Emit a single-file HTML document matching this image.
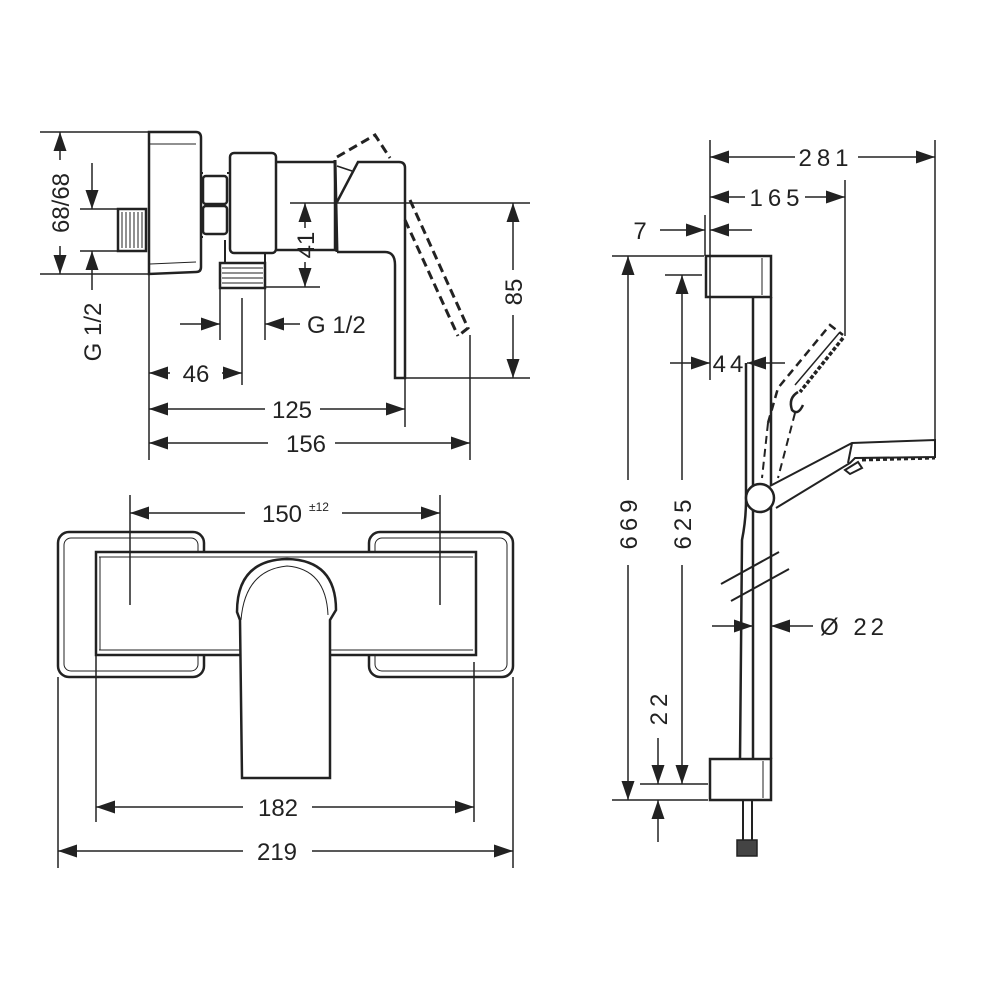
<!DOCTYPE html>
<html><head><meta charset="utf-8"><style>
html,body{margin:0;padding:0;background:#fff}
svg{display:block}
text{font-family:"Liberation Sans",sans-serif;fill:#222;font-size:24px}
</style></head><body>
<svg width="1000" height="1000" viewBox="0 0 1000 1000" xmlns="http://www.w3.org/2000/svg">
<defs>
<marker id="a" markerUnits="userSpaceOnUse" markerWidth="20" markerHeight="14" refX="19" refY="6.5" orient="auto-start-reverse">
<path d="M0,0 L19,6.5 L0,13 z" fill="#222"/>
</marker>
</defs>
<g stroke="#222" fill="none" stroke-width="1.5">
<line x1="40" y1="132" x2="150" y2="132"/>
<line x1="40" y1="274" x2="150" y2="274"/>
<line x1="60" y1="132" x2="60" y2="160" marker-start="url(#a)"/>
<line x1="60" y1="246" x2="60" y2="274" marker-end="url(#a)"/>
<line x1="80" y1="209" x2="118" y2="209"/>
<line x1="80" y1="251" x2="118" y2="251"/>
<line x1="92" y1="163" x2="92" y2="209" marker-end="url(#a)"/>
<line x1="92" y1="290" x2="92" y2="251" marker-end="url(#a)"/>
<rect x="118" y="209" width="28" height="42" stroke-width="2.5"/>
<g stroke-width="1"><line x1="122" y1="212" x2="122" y2="248"/><line x1="126" y1="212" x2="126" y2="248"/><line x1="130" y1="212" x2="130" y2="248"/><line x1="134" y1="212" x2="134" y2="248"/><line x1="138" y1="212" x2="138" y2="248"/><line x1="142" y1="212" x2="142" y2="248"/></g>
<path d="M149,132 L196,132 Q201,132 201,138 L201,267 Q201,272 196,272 L149,274 Z" stroke-width="2.5"/>
<line x1="150" y1="144" x2="196" y2="144" stroke-width="1"/>
<line x1="150" y1="264" x2="196" y2="262" stroke-width="1"/>
<path d="M201,173 L203,173 M201,237 L203,237" stroke-width="2"/>
<rect x="203" y="176" width="24" height="28" rx="3" stroke-width="2.5"/>
<rect x="203" y="206" width="24" height="28" rx="3" stroke-width="2.5"/>
<line x1="227" y1="173" x2="230" y2="173" stroke-width="2"/>
<rect x="230" y="153" width="46" height="100" rx="4" stroke-width="2.5"/>
<path d="M225,240 L225,263 M265,253 L265,263" stroke-width="2"/>
<rect x="220" y="263" width="45" height="25" stroke-width="2.5"/>
<g stroke-width="1"><line x1="222" y1="268" x2="263" y2="268"/><line x1="222" y1="273" x2="263" y2="273"/><line x1="222" y1="278" x2="263" y2="278"/><line x1="222" y1="283" x2="263" y2="283"/></g>
<path d="M276,162 L335,162 L335,250 L276,250" stroke-width="2.5"/>
<line x1="335" y1="160" x2="337" y2="252" stroke-width="3"/>
<path d="M337,252 L385,252 Q395,252 395,265 L395,378 L405,378 L405,168 Q405,162 399,162 L358,162 L337,202" stroke-width="2.5"/>
<line x1="337" y1="166" x2="352" y2="171" stroke-width="1.5"/>
<path d="M337,157 L375,135 L390,158" stroke-width="3" stroke-dasharray="9,5"/>
<path d="M410,200 L468,328 L458,336" stroke-width="3" stroke-dasharray="9,5"/>
<path d="M405,220 L458,336" stroke-width="3" stroke-dasharray="9,5"/>
<line x1="290" y1="203" x2="530" y2="203"/>
<line x1="400" y1="378" x2="530" y2="378"/>
<line x1="513" y1="203" x2="513" y2="270" marker-start="url(#a)"/>
<line x1="513" y1="315" x2="513" y2="378" marker-end="url(#a)"/>
<line x1="265" y1="287" x2="320" y2="287"/>
<line x1="305" y1="203" x2="305" y2="228" marker-start="url(#a)"/>
<line x1="305" y1="262" x2="305" y2="287" marker-end="url(#a)"/>
<line x1="220" y1="288" x2="220" y2="340"/>
<line x1="265" y1="288" x2="265" y2="340"/>
<line x1="180" y1="324" x2="220" y2="324" marker-end="url(#a)"/>
<line x1="300" y1="324" x2="265" y2="324" marker-end="url(#a)"/>
<line x1="149" y1="274" x2="149" y2="460"/>
<line x1="242" y1="298" x2="242" y2="385"/>
<line x1="405" y1="378" x2="405" y2="427"/>
<line x1="470" y1="335" x2="470" y2="460"/>
<line x1="149" y1="373" x2="170" y2="373" marker-start="url(#a)"/>
<line x1="222" y1="373" x2="242" y2="373" marker-end="url(#a)"/>
<line x1="149" y1="409" x2="265" y2="409" marker-start="url(#a)"/>
<line x1="320" y1="409" x2="405" y2="409" marker-end="url(#a)"/>
<line x1="149" y1="443" x2="268" y2="443" marker-start="url(#a)"/>
<line x1="335" y1="443" x2="470" y2="443" marker-end="url(#a)"/>

<rect x="58" y="532" width="146" height="145" rx="11" stroke-width="2.5" fill="#fff"/>
<rect x="64" y="538" width="134" height="133" rx="7" stroke-width="1"/>
<rect x="369" y="532" width="144" height="145" rx="11" stroke-width="2.5" fill="#fff"/>
<rect x="375" y="538" width="132" height="133" rx="7" stroke-width="1"/>
<rect x="96" y="552" width="380" height="103" stroke-width="2.5" fill="#fff"/>
<line x1="99" y1="557" x2="473" y2="557" stroke-width="1"/>
<line x1="99" y1="650" x2="473" y2="650" stroke-width="1"/>
<line x1="100" y1="557" x2="100" y2="650" stroke-width="1"/>
<path d="M242,778 L240,620 L237,612 Q237,560 287,559 Q336,560 336,610 L330,620 L330,778 Z" stroke-width="2.5" fill="#fff"/>
<path d="M241,620 Q245,570 287,566 Q326,569 328,615" stroke-width="1"/>
<line x1="130" y1="495" x2="130" y2="605"/>
<line x1="440" y1="495" x2="440" y2="605"/>
<line x1="130" y1="513" x2="245" y2="513" marker-start="url(#a)"/>
<line x1="342" y1="513" x2="440" y2="513" marker-end="url(#a)"/>
<line x1="96" y1="655" x2="96" y2="822"/>
<line x1="474" y1="662" x2="474" y2="822"/>
<line x1="58" y1="677" x2="58" y2="868"/>
<line x1="513" y1="677" x2="513" y2="868"/>
<line x1="96" y1="807" x2="243" y2="807" marker-start="url(#a)"/>
<line x1="312" y1="807" x2="474" y2="807" marker-end="url(#a)"/>
<line x1="58" y1="851" x2="243" y2="851" marker-start="url(#a)"/>
<line x1="312" y1="851" x2="513" y2="851" marker-end="url(#a)"/>

<line x1="710" y1="140" x2="710" y2="380"/>
<line x1="935" y1="140" x2="935" y2="440"/>
<line x1="845" y1="180" x2="845" y2="336"/>
<line x1="705" y1="215" x2="705" y2="256"/>
<line x1="710" y1="157" x2="795" y2="157" marker-start="url(#a)"/>
<line x1="858" y1="157" x2="935" y2="157" marker-end="url(#a)"/>
<line x1="710" y1="197" x2="745" y2="197" marker-start="url(#a)"/>
<line x1="805" y1="197" x2="845" y2="197" marker-end="url(#a)"/>
<line x1="660" y1="230" x2="705" y2="230" marker-end="url(#a)"/>
<line x1="752" y1="230" x2="710" y2="230" marker-end="url(#a)"/>
<rect x="706" y="256" width="65" height="41" stroke-width="2.5"/>
<line x1="762" y1="258" x2="762" y2="295" stroke-width="1"/>
<line x1="612" y1="256" x2="704" y2="256"/>
<line x1="665" y1="275" x2="702" y2="275"/>
<line x1="628" y1="256" x2="628" y2="480" marker-start="url(#a)"/>
<line x1="628" y1="565" x2="628" y2="800" marker-end="url(#a)"/>
<line x1="682" y1="275" x2="682" y2="480" marker-start="url(#a)"/>
<line x1="682" y1="565" x2="682" y2="784" marker-end="url(#a)"/>
<line x1="670" y1="363" x2="710" y2="363" marker-end="url(#a)"/>
<line x1="785" y1="363" x2="747" y2="363" marker-end="url(#a)"/>
<line x1="753" y1="297" x2="753" y2="759" stroke-width="2.5"/>
<line x1="771" y1="297" x2="771" y2="759" stroke-width="2.5"/>
<path d="M746,363 L746,500 Q746,520 742,540 L740,759" stroke-width="2.5"/>
<line x1="721" y1="584" x2="779" y2="552" stroke-width="2"/>
<line x1="731" y1="601" x2="789" y2="569" stroke-width="2"/>
<line x1="712" y1="626" x2="753" y2="626" marker-end="url(#a)"/>
<line x1="813" y1="626" x2="771" y2="626" marker-end="url(#a)"/>
<path d="M768,423 L778,388 L830,325 L843,335" stroke-width="2.5" stroke-dasharray="8,5"/>
<path d="M843,338 L800,392" stroke-width="3.5" stroke-dasharray="4,2"/>
<path d="M840,332 L795,385" stroke-width="1.5"/>
<path d="M798,392 Q788,398 792,410 Q798,416 803,405" stroke-width="2.5"/>
<path d="M795,413 L778,478" stroke-width="2" stroke-dasharray="8,5"/>
<path d="M768,423 L762,478" stroke-width="2" stroke-dasharray="8,5"/>
<path d="M770,486 L852,443 L935,440 L935,457 L855,458 L850,463 L776,508" stroke-width="2" fill="#fff"/>
<line x1="852" y1="443" x2="848" y2="463" stroke-width="2"/>
<path d="M862,460 L935,458" stroke-width="3" stroke-dasharray="4,3"/>
<path d="M845,470 L858,462 L862,468 L850,474 Z" stroke-width="2"/>
<circle cx="760" cy="498" r="14" stroke-width="2.5" fill="#fff"/>
<rect x="710" y="759" width="61" height="41" stroke-width="2.5" fill="#fff"/>
<line x1="763" y1="761" x2="763" y2="798" stroke-width="1"/>
<line x1="640" y1="784" x2="708" y2="784"/>
<line x1="612" y1="800" x2="708" y2="800"/>
<line x1="658" y1="738" x2="658" y2="784" marker-end="url(#a)"/>
<line x1="658" y1="842" x2="658" y2="800" marker-end="url(#a)"/>
<line x1="743" y1="800" x2="743" y2="840" stroke-width="2"/>
<line x1="752" y1="800" x2="752" y2="840" stroke-width="2"/>
<rect x="737" y="840" width="20" height="16" fill="#444" stroke-width="1.5"/>
</g>
<text transform="translate(69,203) rotate(-90)" text-anchor="middle">68/68</text>
<text transform="translate(101,332) rotate(-90)" text-anchor="middle">G 1/2</text>
<text transform="translate(314,245) rotate(-90)" text-anchor="middle">41</text>
<text transform="translate(522,292) rotate(-90)" text-anchor="middle">85</text>
<text x="307" y="333">G 1/2</text>
<text x="196" y="382" text-anchor="middle">46</text>
<text x="292" y="418" text-anchor="middle">125</text>
<text x="306" y="452" text-anchor="middle">156</text>
<text x="282" y="522" text-anchor="middle">150</text>
<text x="309" y="511" style="font-size:12px">±12</text>
<text x="278" y="816" text-anchor="middle">182</text>
<text x="277" y="860" text-anchor="middle">219</text>
<text x="826" y="166" text-anchor="middle" letter-spacing="5">281</text>
<text x="777" y="206" text-anchor="middle" letter-spacing="5">165</text>
<text x="640" y="239" text-anchor="middle">7</text>
<text x="730" y="372" text-anchor="middle" letter-spacing="4">44</text>
<text transform="translate(637,522) rotate(-90)" text-anchor="middle" letter-spacing="5">669</text>
<text transform="translate(691,522) rotate(-90)" text-anchor="middle" letter-spacing="5">625</text>
<text transform="translate(667,707) rotate(-90)" text-anchor="middle" letter-spacing="5">22</text>
<text x="820" y="635" letter-spacing="4">Ø 22</text>
</svg>
</body></html>
